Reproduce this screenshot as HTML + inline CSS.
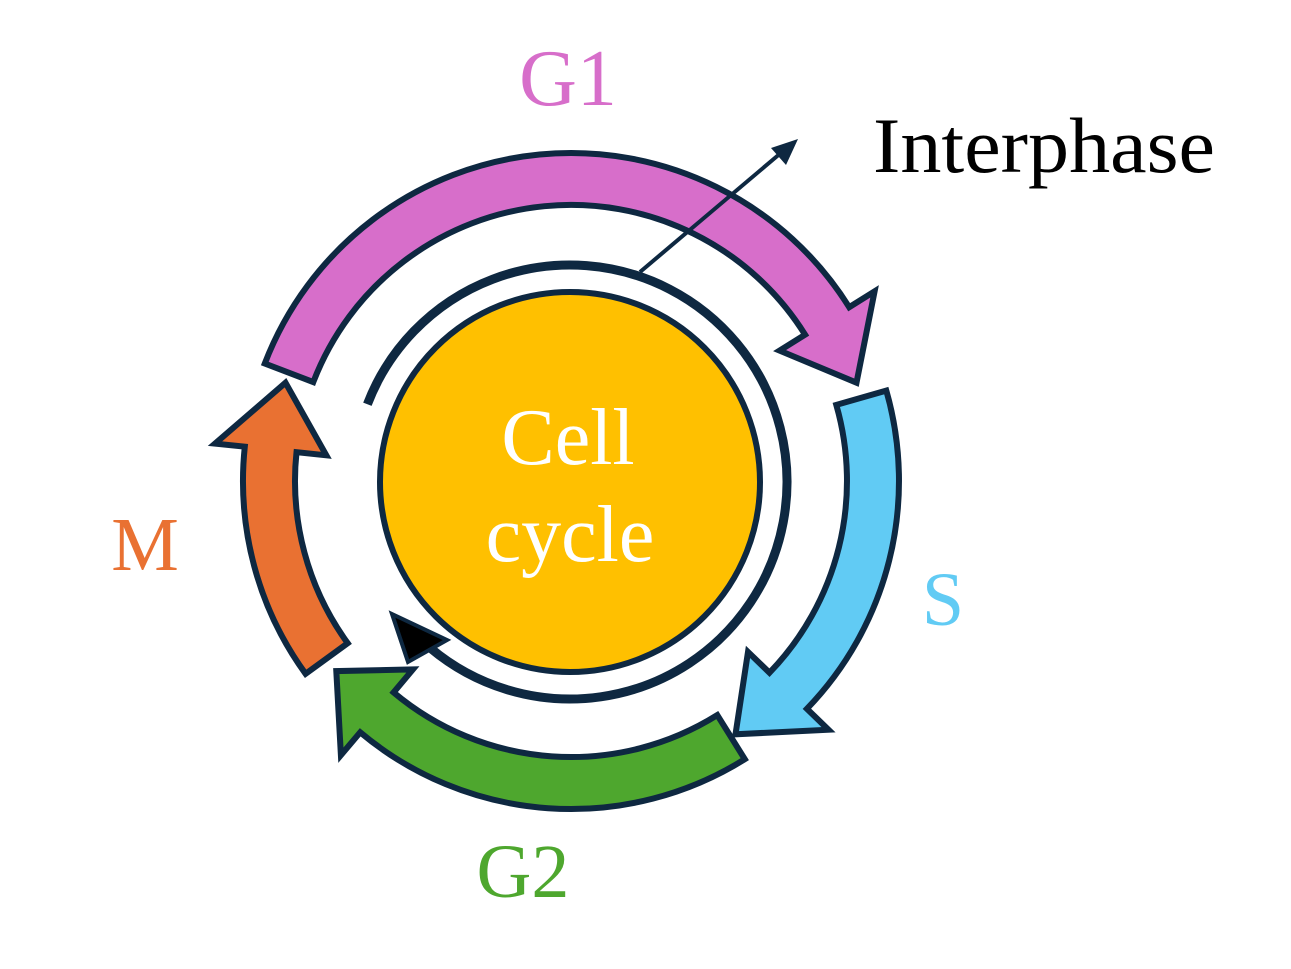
<!DOCTYPE html>
<html><head><meta charset="utf-8"><style>
html,body{margin:0;padding:0;background:#fff;}
svg{display:block}
text{font-family:"Liberation Serif",serif;}
</style></head><body>
<svg id="s" width="1291" height="969" viewBox="0 0 1291 969" xmlns="http://www.w3.org/2000/svg">
<g id="arrows"></g>
<circle cx="570" cy="482" r="190" fill="#FFC000" stroke="#0E2841" stroke-width="6"/>
<path id="thin" fill="none" stroke="#0E2841" stroke-width="9"/>
<polygon points="392,614 447,640 408,662" fill="#000" stroke="#0E2841" stroke-width="4"/>
<line x1="640" y1="272" x2="782" y2="152" stroke="#0E2841" stroke-width="4"/>
<polygon points="798,139 771,148 786,165" fill="#0E2841"/>
<text x="568" y="105" font-size="80" fill="#D76ECA" text-anchor="middle">G1</text>
<text x="873" y="172" font-size="78" fill="#000" textLength="342" lengthAdjust="spacingAndGlyphs">Interphase</text>
<text x="568" y="464" font-size="80" fill="#fff" text-anchor="middle">Cell</text>
<text x="570" y="561" font-size="80" fill="#fff" text-anchor="middle">cycle</text>
<text x="145" y="570" font-size="76" fill="#E97132" text-anchor="middle">M</text>
<text x="943" y="625" font-size="76" fill="#61CBF4" text-anchor="middle">S</text>
<text x="523" y="897" font-size="76" fill="#4EA72E" text-anchor="middle">G2</text>
</svg>
<script>
var cx=571,cy=481,R=328,r=276;
function P(rad,a){a=a*Math.PI/180;return (cx+rad*Math.cos(a)).toFixed(1)+","+(cy+rad*Math.sin(a)).toFixed(1);}
function arrow(a0,ab,at,col){
 var m=(R+r)/2;
 var d="M"+P(R,a0)+" A"+R+","+R+" 0 0 1 "+P(R,ab)+" L"+P(R+30,ab)+" L"+P(m,at)+" L"+P(r-30,ab)+" L"+P(r,ab)+" A"+r+","+r+" 0 0 0 "+P(r,a0)+" Z";
 return '<path d="'+d+'" fill="'+col+'" stroke="#0E2841" stroke-width="6" stroke-linejoin="miter"/>';
}
var g=document.getElementById("arrows");
g.innerHTML=arrow(-159,-32,-19,"#D76ECA")+arrow(-16,44,57,"#61CBF4")+arrow(58,130,141,"#4EA72E")+arrow(144,186,199,"#E97132");
var tr=217,a0=201,a1=490;
function Q(a){a=a*Math.PI/180;return (570+tr*Math.cos(a)).toFixed(1)+","+(482+tr*Math.sin(a)).toFixed(1);}
document.getElementById("thin").setAttribute("d","M"+Q(a0)+" A"+tr+","+tr+" 0 1 1 "+Q(a1));
</script>
</body></html>
